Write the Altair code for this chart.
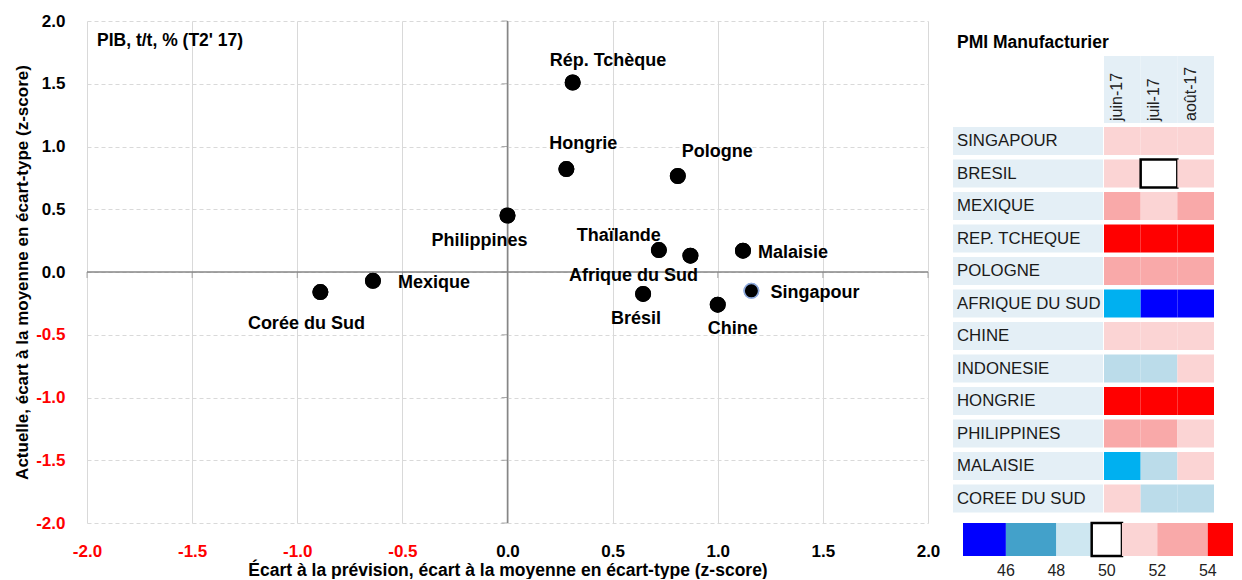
import altair as alt
import pandas as pd

# ---------------- Scatter data (z-scores) ----------------
pays = ["Rép. Tchèque", "Hongrie", "Pologne", "Philippines", "Thaïlande",
        "Afrique du Sud", "Malaisie", "Singapour", "Chine", "Brésil",
        "Mexique", "Corée du Sud"]
ecart_prevision = [0.31, 0.28, 0.81, 0.0, 0.72, 0.87, 1.12, 1.16, 1.0, 0.645, -0.64, -0.89]
pib_actuel = [1.51, 0.82, 0.765, 0.45, 0.175, 0.13, 0.17, -0.15, -0.26, -0.175, -0.07, -0.16]
graduations = [-2.0, -1.5, -1.0, -0.5, 0.0, 0.5, 1.0, 1.5, 2.0]

# ---------------- PMI heatmap data ----------------
pmi_pays = ["SINGAPOUR", "BRESIL", "MEXIQUE", "REP. TCHEQUE", "POLOGNE",
            "AFRIQUE DU SUD", "CHINE", "INDONESIE", "HONGRIE", "PHILIPPINES",
            "MALAISIE", "COREE DU SUD"]
mois = ["juin-17", "juil-17", "août-17"]
classe_juin = ["50-52", "50-52", "52-54", ">54", "52-54", "46-48", "50-52", "48-50", ">54", "52-54", "46-48", "50-52"]
classe_juil = ["50-52", "50", "50-52", ">54", "52-54", "<46", "50-52", "48-50", ">54", "52-54", "48-50", "48-50"]
classe_aout = ["50-52", "50-52", "52-54", ">54", "52-54", "<46", "50-52", "50-52", ">54", "50-52", "50-52", "48-50"]

classes = ["<46", "46-48", "48-50", "50", "50-52", "52-54", ">54"]
couleurs_cellules = ["#0000FF", "#00B0F0", "#BBDCEA", "#FFFFFF", "#FBD4D4", "#F9A9A9", "#FF0000"]
couleurs_legende = ["#0000FF", "#43A1CA", "#CEE7F1", "#FFFFFF", "#FBD4D4", "#F9A9A9", "#FF0000"]
legende_bornes = [44.3, 46, 48, 49.4, 50.6, 52, 54, 55.0]
legende_ticks = [46, 48, 50, 52, 54]

FONT = "Liberation Sans"

# ---------------- Scatter chart ----------------
df_sc = pd.DataFrame({"pays": pays, "x": ecart_prevision, "y": pib_actuel})
xs = alt.Scale(domain=[-2, 2], nice=False, zero=False)
ys = alt.Scale(domain=[-2, 2], nice=False, zero=False)
label_color = {"expr": "datum.value < 0 ? '#FF0000' : '#000000'"}
label_expr = "replace(format(datum.value, '.1f'), '\u2212', '-')"

x_axis = alt.Axis(values=graduations, labelExpr=label_expr, grid=True, gridColor="#D9D9D9", gridWidth=1,
                  domain=False, ticks=False, tickSize=0, labelPadding=20, labelFlush=False,
                  labelFont=FONT, labelFontSize=17, labelFontWeight="bold", labelColor=label_color,
                  title="Écart à la prévision, écart à la moyenne en écart-type  (z-score)",
                  titleFont=FONT, titleFontSize=17.5, titleFontWeight="bold", titleColor="#000000",
                  titlePadding=2)
y_axis = alt.Axis(values=graduations, labelExpr=label_expr, grid=True, gridColor="#D9D9D9", gridWidth=1,
                  gridDash=[4, 3], domain=False, ticks=False, tickSize=0, labelPadding=22,
                  labelFlush=False, labelFont=FONT, labelFontSize=17, labelFontWeight="bold",
                  labelColor=label_color,
                  title="Actuelle, écart à la moyenne en écart-type  (z-score)",
                  titleFont=FONT, titleFontSize=17, titleFontWeight="bold", titleColor="#000000",
                  titlePadding=4)

points = alt.Chart(df_sc).mark_circle(size=210, opacity=1, color="black", strokeWidth=1.5).encode(
    x=alt.X("x:Q", scale=xs, axis=x_axis),
    y=alt.Y("y:Q", scale=ys, axis=y_axis),
    stroke=alt.condition(alt.datum.pays == "Singapour", alt.value("#8FAADC"), alt.value("black")),
)

zero_df = pd.DataFrame({"v": [0.0]})
h_zero = alt.Chart(zero_df).mark_rule(color="#868686", strokeWidth=1.5).encode(y=alt.Y("v:Q", scale=ys))
v_zero = alt.Chart(zero_df).mark_rule(color="#868686", strokeWidth=1.5).encode(x=alt.X("v:Q", scale=xs))

tick_df = pd.DataFrame({"t": graduations})
h_ticks = alt.Chart(tick_df).mark_tick(orient="vertical", size=6, thickness=1, yOffset=3,
                                       color="#868686").encode(x=alt.X("t:Q", scale=xs), y=alt.datum(0))
v_ticks = alt.Chart(tick_df).mark_tick(orient="horizontal", size=6, thickness=1, xOffset=-3,
                                       color="#868686").encode(y=alt.Y("t:Q", scale=ys), x=alt.datum(0))

# label placement (style only)
placement = {
    "Rép. Tchèque": ("left", -23, -21),
    "Hongrie": ("left", -17, -25),
    "Pologne": ("left", 4, -24),
    "Philippines": ("right", 20, 25),
    "Thaïlande": ("right", 2, -14),
    "Afrique du Sud": ("center", -57, 20),
    "Malaisie": ("left", 15, 2),
    "Singapour": ("left", 19, 2),
    "Chine": ("center", 15, 24),
    "Brésil": ("center", -7, 25),
    "Mexique": ("left", 25, 2),
    "Corée du Sud": ("center", -14, 32),
}
labels = []
for p in pays:
    al, dx, dy = placement[p]
    labels.append(
        alt.Chart(df_sc).transform_filter(alt.datum.pays == p).mark_text(
            align=al, baseline="middle", dx=dx, dy=dy, font=FONT, fontSize=18,
            fontWeight="bold", color="black"
        ).encode(x=alt.X("x:Q", scale=xs), y=alt.Y("y:Q", scale=ys), text="pays:N")
    )

pib_title = alt.Chart(pd.DataFrame({"t": ["PIB, t/t, % (T2' 17)"]})).mark_text(
    align="left", baseline="middle", x=10, y=20, font=FONT, fontSize=17.5, fontWeight="bold", color="black"
).encode(text="t:N")

scatter = alt.layer(points, h_zero, v_zero, h_ticks, v_ticks, *labels, pib_title, points).properties(
    width=841, height=502
)

# ---------------- Right panel: PMI heatmap ----------------
rows = []
for i, c in enumerate(pmi_pays):
    rows.append({"pays": c, "mois": mois[0], "classe": classe_juin[i]})
    rows.append({"pays": c, "mois": mois[1], "classe": classe_juil[i]})
    rows.append({"pays": c, "mois": mois[2], "classe": classe_aout[i]})
df_hm = pd.DataFrame(rows)
df_pays = pd.DataFrame({"pays": pmi_pays})
df_mois = pd.DataFrame({"mois": mois})
df_leg = pd.DataFrame({"classe": classes, "lo": legende_bornes[:-1], "hi": legende_bornes[1:]})
df_legt = pd.DataFrame({"t": legende_ticks})

mx = alt.Scale(domain=mois, range=[151, 261], paddingInner=0, paddingOuter=0)
py = alt.Scale(domain=pmi_pays, range=[103.75, 493.75], paddingInner=0.138, paddingOuter=0.069)
lx = alt.Scale(domain=[legende_bornes[0], legende_bornes[-1]], range=[10, 280], nice=False, zero=False)

pmi_title = alt.Chart(pd.DataFrame({"t": ["PMI Manufacturier"]})).mark_text(
    align="left", baseline="middle", x=4, y=22, font=FONT, fontSize=17.5, fontWeight="bold", color="black"
).encode(text="t:N")

header_bg = alt.Chart(df_mois).mark_rect(color="#E4EFF6").encode(
    x=alt.X("mois:N", scale=mx, axis=None), y=alt.value(35), y2=alt.value(102)
)
header_txt = alt.Chart(df_mois).mark_text(
    angle=270, align="left", baseline="middle", xOffset=-5, font=FONT, fontSize=16, color="#222222"
).encode(x=alt.X("mois:N", scale=mx, axis=None), y=alt.value(100), text="mois:N")

row_bg = alt.Chart(df_pays).mark_rect(color="#E4EFF6").encode(
    y=alt.Y("pays:N", scale=py, axis=None), x=alt.value(0), x2=alt.value(150)
)
row_txt = alt.Chart(df_pays).mark_text(
    align="left", baseline="middle", font=FONT, fontSize=16.8, color="#1A1A1A"
).encode(y=alt.Y("pays:N", scale=py, axis=None), x=alt.value(4), text="pays:N")

cells = alt.Chart(df_hm).mark_rect().encode(
    x=alt.X("mois:N", scale=mx, axis=None),
    y=alt.Y("pays:N", scale=py, axis=None),
    color=alt.Color("classe:N", scale=alt.Scale(domain=classes, range=couleurs_cellules), legend=None),
    stroke=alt.condition(alt.datum.classe == "50", alt.value("black"), alt.value("transparent")),
    strokeWidth=alt.condition(alt.datum.classe == "50", alt.value(2.5), alt.value(0)),
)

leg_rects = alt.Chart(df_leg).mark_rect().encode(
    x=alt.X("lo:Q", scale=lx, axis=None), x2="hi:Q",
    y=alt.value(502), y2=alt.value(535),
    color=alt.Color("classe:N", scale=alt.Scale(domain=classes, range=couleurs_legende), legend=None),
    stroke=alt.condition(alt.datum.classe == "50", alt.value("black"), alt.value("transparent")),
    strokeWidth=alt.condition(alt.datum.classe == "50", alt.value(2.5), alt.value(0)),
)
leg_txt = alt.Chart(df_legt).mark_text(
    align="center", baseline="middle", font=FONT, fontSize=16, color="#222222"
).encode(x=alt.X("t:Q", scale=lx, axis=None), y=alt.value(550), text="t:Q")

right = alt.layer(
    pmi_title, header_bg, header_txt, row_bg, row_txt, cells, leg_rects, leg_txt
).resolve_scale(x="independent", y="independent", color="independent").properties(width=280, height=558)

chart = alt.hconcat(scatter, right, spacing=13).properties(
    padding={"left": 5, "top": 4, "right": 0, "bottom": 0}
).configure_view(strokeWidth=0)

chart.save("out.html", embed_options={"renderer": "svg", "actions": False})
